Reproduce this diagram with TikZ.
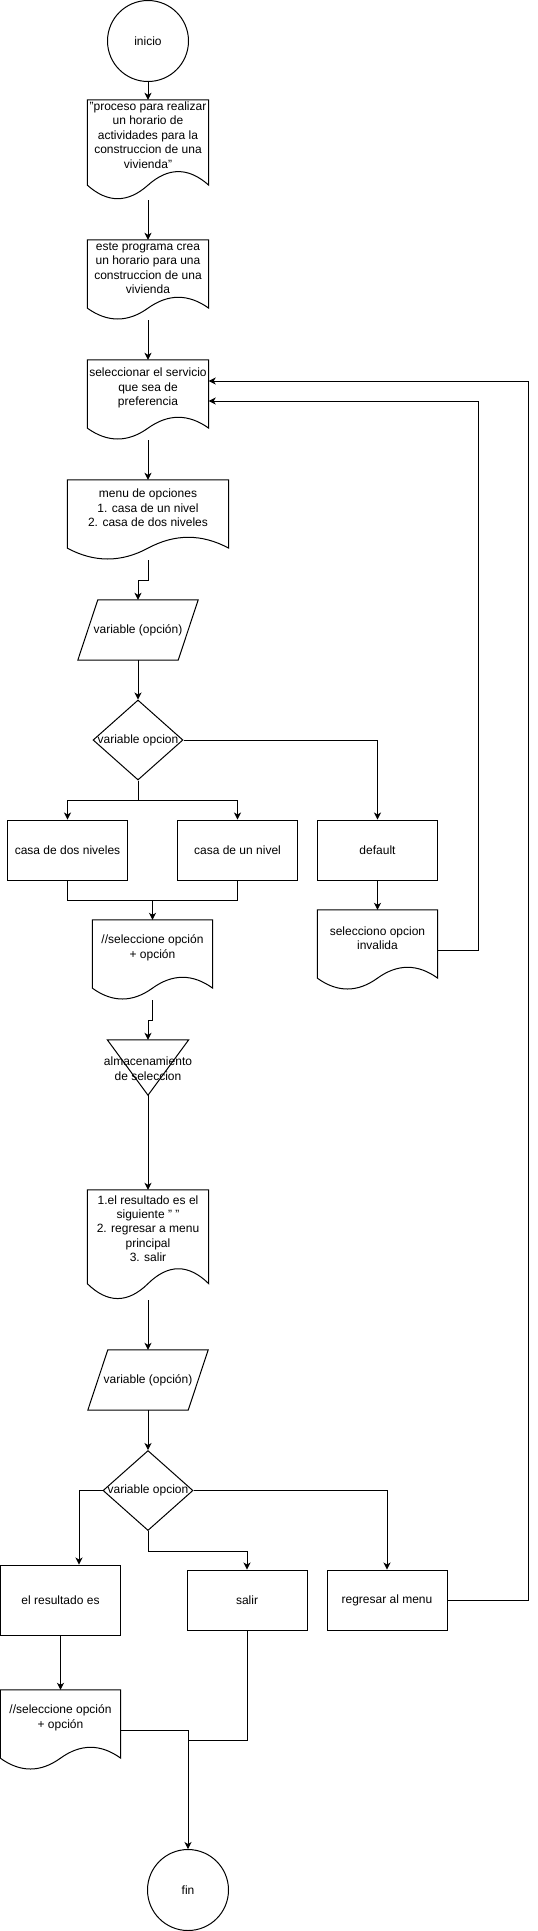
\documentclass[tikz,border=0pt]{standalone}
\usepackage{fontspec}
\setmainfont{Liberation Sans}
\usetikzlibrary{shapes.geometric,arrows.meta,calc}
\tikzset{
  base/.style={line width=1pt},
  arr/.style={base,-{Stealth[length=7pt,width=7pt,inset=2pt]}},
  shp/.style={draw,base,inner sep=0pt,font=\fontsize{12}{14.4}\selectfont},
  boxn/.style={shp,rectangle,minimum width=120pt,minimum height=60pt},
  circ/.style={shp,circle,minimum size=81pt},
  dia/.style={shp,diamond,minimum width=90pt,minimum height=80pt},
  frame/.style={rectangle,inner sep=0pt,draw=none},
  txt/.style={align=center,inner sep=0pt,font=\fontsize{12}{14.4}\selectfont},
}
\newcommand{\docoutline}[2][]{\draw[base,#1] let \p1=(#2.north west), \p2=(#2.south east), \n1={\x2-\x1}, \n2={0.3*(\y1-\y2)} in (\x1,\y1) -- (\x2,\y1) -- (\x2,\y2+0.5*\n2) .. controls (\x2-\n1/6,\y2+1.1*\n2) and (\x1+2*\n1/3,\y2+1.1*\n2) .. (\x1+0.5*\n1,\y2+0.5*\n2) .. controls (\x1+\n1/3,\y2-0.1*\n2) and (\x1+\n1/6,\y2-0.1*\n2) .. (\x1,\y2+0.5*\n2) -- cycle;}
\newcommand{\paraoutline}[1]{\draw[base] ([xshift=20pt]#1.north west) -- (#1.north east) -- ([xshift=-20pt]#1.south east) -- (#1.south west) -- cycle;}
\begin{document}
\begin{tikzpicture}[x=1pt,y=-1pt]
\useasboundingbox[fill=white] (0,0) rectangle (538,1931);

% start
\node[circ] (inicio) at (148,41) {inicio};

% documents
\node[frame,minimum width=121pt,minimum height=100pt] (d1) at (148,150) {};
\docoutline{d1}
\node[txt] (t1) at (148,135) {"proceso para realizar\\un horario de\\actividades para la\\construccion de una\\vivienda"};

\node[frame,minimum width=121pt,minimum height=80pt] (d2) at (148,280) {};
\docoutline{d2}
\node[txt] (t2) at (148,268) {este programa crea\\un horario para una\\construccion de una\\vivienda};

\node[frame,minimum width=121pt,minimum height=80pt] (d3) at (148,400) {};
\docoutline{d3}
\node[txt] (t3) at (148,388) {seleccionar el servicio\\que sea de\\preferencia};

\node[frame,minimum width=161pt,minimum height=80pt] (dm) at (148,520) {};
\docoutline{dm}
\node[txt] (tm) at (148,508) {menu de opciones\\1. casa de un nivel\\2. casa de dos niveles};

% parallelogram 1
\node[frame,minimum width=120pt,minimum height=60pt] (p1) at (138,630) {};
\paraoutline{p1}
\node[txt] (tp1) at (138,630) {variable (opción)};

% decision 1
\node[dia] (dia1) at (138,740) {};
\node[txt] (td1) at (138,740) {variable opcion};

\node[boxn] (r1) at (67.5,850) {casa de dos niveles};
\node[boxn] (r2) at (237.5,850) {casa de un nivel};
\node[boxn] (r3) at (377.5,850) {default};

\node[frame,minimum width=120pt,minimum height=80pt] (d5) at (152.5,960) {};
\docoutline{d5}
\node[txt] (t5) at (152.5,948) {//seleccione opción\\+ opción};

\node[frame,minimum width=120pt,minimum height=80pt] (d6) at (377.5,950) {};
\docoutline{d6}
\node[txt] (t6) at (377.5,938) {selecciono opcion\\invalida};

% storage triangle
\node[frame,minimum width=81pt,minimum height=55pt] (tri) at (148,1067.5) {};
\draw[base] (tri.north west) -- (tri.north east) -- (tri.south) -- cycle;
\node[txt] (ttri) at (148,1068.5) {almacenamiento\\de seleccion};

\node[frame,minimum width=121pt,minimum height=110pt] (d7) at (148,1245) {};
\docoutline{d7}
\node[txt] (t7) at (148,1228.5) {1.el resultado es el\\siguiente " "\\2. regresar a menu\\principal\\3. salir};

% parallelogram 2
\node[frame,minimum width=120pt,minimum height=60pt] (p2) at (148,1380) {};
\paraoutline{p2}
\node[txt] (tp2) at (148,1380) {variable (opción)};

% decision 2
\node[dia] (dia2) at (148,1490.5) {};
\node[txt] (td2) at (148,1490.5) {variable opcion};

\node[boxn,minimum height=70pt] (r4) at (60.5,1600) {el resultado es};
\node[boxn] (r5) at (247,1600) {salir};
\node[boxn] (r6) at (387,1600) {regresar al menu};

\node[frame,minimum width=120pt,minimum height=80pt] (d8) at (60.5,1730) {};
\docoutline{d8}
\node[txt] (t8) at (60.5,1718) {//seleccione opción\\+ opción};

\node[circ] (fin) at (188,1890) {fin};

% helper coordinates
\coordinate (m1) at (152.5,900);
\coordinate (lp1) at (478,401);
\coordinate (lp2) at (528,381);
\coordinate (j1) at (188,1740);

% connectors
\draw[arr] (inicio.south) -- (d1.north);
\draw[arr] (d1.south) -- (d2.north);
\draw[arr] (d2.south) -- (d3.north);
\draw[arr] (d3.south) -- (dm.north);
\draw[arr] (dm.south) -- ++(0,20) -| (p1.north);
\draw[arr] (p1.south) -- (dia1.north);
\draw[arr] (dia1.south) -- ++(0,20) -| (r1.north);
\draw[arr] (dia1.south) -- ++(0,20) -| (r2.north);
\draw[arr] (dia1.east) -| (r3.north);
\draw[base] (r1.south) -- ++(0,20) -| (r2.south);
\draw[arr] (m1) -- (d5.north);
\draw[arr] (r3.south) -- (d6.north);
\draw[arr] (d6.east) -| (lp1) -- (d3.east |- lp1);
\draw[arr] (d5.south) -- ++(0,20) -| (tri.north);
\draw[arr] (tri.south) -- (d7.north);
\draw[arr] (d7.south) -- (p2.north);
\draw[arr] (p2.south) -- (dia2.north);
\draw[arr] (dia2.west) -| ([xshift=18.5pt]r4.north);
\draw[arr] (dia2.south) -- ++(0,20) -| (r5.north);
\draw[arr] (dia2.east) -| (r6.north);
\draw[arr] (r6.east) -| (lp2) -- (d3.east |- lp2);
\draw[arr] (r4.south) -- (d8.north);
\draw[arr] (d8.east) -| (fin.north);
\draw[base] (r5.south) |- (j1);
\end{tikzpicture}
\end{document}
